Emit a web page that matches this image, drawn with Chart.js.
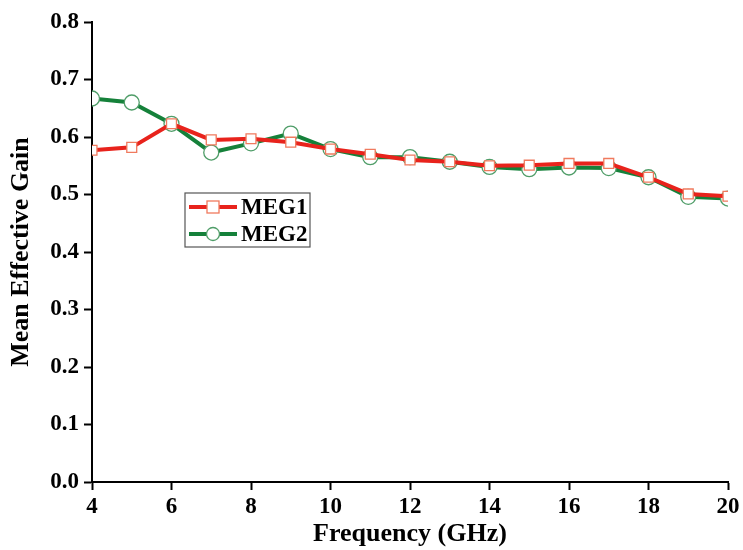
<!DOCTYPE html>
<html><head><meta charset="utf-8">
<script src="https://cdn.jsdelivr.net/npm/chart.js@4/dist/chart.umd.min.js"></script>
<style>html,body{margin:0;padding:0;background:#fff}#wrap{width:743px;height:550px}</style>
</head><body><div id="wrap"><canvas id="c" width="743" height="550"></canvas></div>
<script>
const frequencies = [4,5,6,7,8,9,10,11,12,13,14,15,16,17,18,19,20];
const meg1 = [0.577,0.582,0.623,0.595,0.597,0.591,0.579,0.570,0.560,0.557,0.550,0.551,0.554,0.554,0.530,0.501,0.497];
const meg2 = [0.667,0.660,0.623,0.573,0.589,0.606,0.579,0.565,0.565,0.557,0.548,0.544,0.547,0.546,0.530,0.496,0.493];
const xTicks = [4,6,8,10,12,14,16,18,20];
const seriesNames = ['MEG1','MEG2'];

const FONT = '"Liberation Serif","Times New Roman",serif';

const legendPlugin = {
  id: 'boxLegend',
  afterDraw(chart) {
    const ctx = chart.ctx;
    const x0 = 185, y0 = 193, w = 125, h = 54;
    ctx.save();
    ctx.strokeStyle = '#555'; ctx.lineWidth = 1.2;
    ctx.strokeRect(x0, y0, w, h);
    chart.data.datasets.forEach((ds, i) => {
      const y = y0 + 14 + i * 27;
      ctx.strokeStyle = ds.borderColor; ctx.lineWidth = 4;
      ctx.beginPath(); ctx.moveTo(x0 + 4, y); ctx.lineTo(x0 + 52, y); ctx.stroke();
      ctx.fillStyle = '#fff'; ctx.strokeStyle = ds.pointBorderColor; ctx.lineWidth = 1.3;
      const cx = x0 + 28;
      if (ds.pointStyle === 'rect') {
        ctx.fillRect(cx - 6, y - 6, 12, 12); ctx.strokeRect(cx - 6, y - 6, 12, 12);
      } else {
        ctx.beginPath(); ctx.arc(cx, y, 6.5, 0, Math.PI * 2); ctx.fill(); ctx.stroke();
      }
      ctx.fillStyle = '#000'; ctx.font = 'bold 23px ' + FONT;
      ctx.textBaseline = 'middle'; ctx.textAlign = 'left';
      ctx.fillText(ds.label, x0 + 56, y + 1);
    });
    ctx.restore();
  }
};

new Chart(document.getElementById('c'), {
  type: 'line',
  data: {
    datasets: [
      { label: seriesNames[0], data: frequencies.map((f,i)=>({x:f,y:meg1[i]})),
        borderColor: '#e8231c', borderWidth: 4, pointStyle: 'rect', pointRadius: 7,
        pointBackgroundColor: '#fff', pointBorderColor: '#f07a5e', pointBorderWidth: 1.3, tension: 0 },
      { label: seriesNames[1], data: frequencies.map((f,i)=>({x:f,y:meg2[i]})),
        borderColor: '#15813a', borderWidth: 4, pointStyle: 'circle', pointRadius: 7.5,
        pointBackgroundColor: '#fff', pointBorderColor: '#4f9d68', pointBorderWidth: 1.3, tension: 0 }
    ]
  },
  options: {
    responsive: false, animation: false, devicePixelRatio: 1,
    layout: { padding: { top: 22, right: 15, left: 0, bottom: 0 } },
    plugins: { legend: { display: false }, tooltip: { enabled: false } },
    scales: {
      x: {
        type: 'linear', min: 4, max: 20,
        afterBuildTicks: s => { s.ticks = xTicks.map(v => ({ value: v })); },
        afterFit: s => { s.height = 68; },
        grid: { drawOnChartArea: false, drawTicks: true, tickLength: 8, tickColor: '#000', tickWidth: 2 },
        border: { color: '#000', width: 2 },
        ticks: { color: '#000', font: { family: FONT, size: 23, weight: 'bold' }, padding: 3, maxRotation: 0 },
        title: { display: true, text: 'Frequency (GHz)', color: '#000', font: { family: FONT, size: 26, weight: 'bold' }, padding: { top: 0, bottom: 0 } }
      },
      y: {
        min: 0, max: 0.8,
        afterFit: s => { s.width = 92; },
        grid: { drawOnChartArea: false, drawTicks: true, tickLength: 8, tickColor: '#000', tickWidth: 2 },
        border: { color: '#000', width: 2 },
        ticks: { stepSize: 0.1, color: '#000', font: { family: FONT, size: 23, weight: 'bold' }, padding: 5,
          callback: v => v.toFixed(1) },
        title: { display: true, text: 'Mean Effective Gain', color: '#000', font: { family: FONT, size: 26, weight: 'bold' }, padding: { top: 6, bottom: 0 } }
      }
    }
  },
  plugins: [legendPlugin]
});
</script></body></html>
